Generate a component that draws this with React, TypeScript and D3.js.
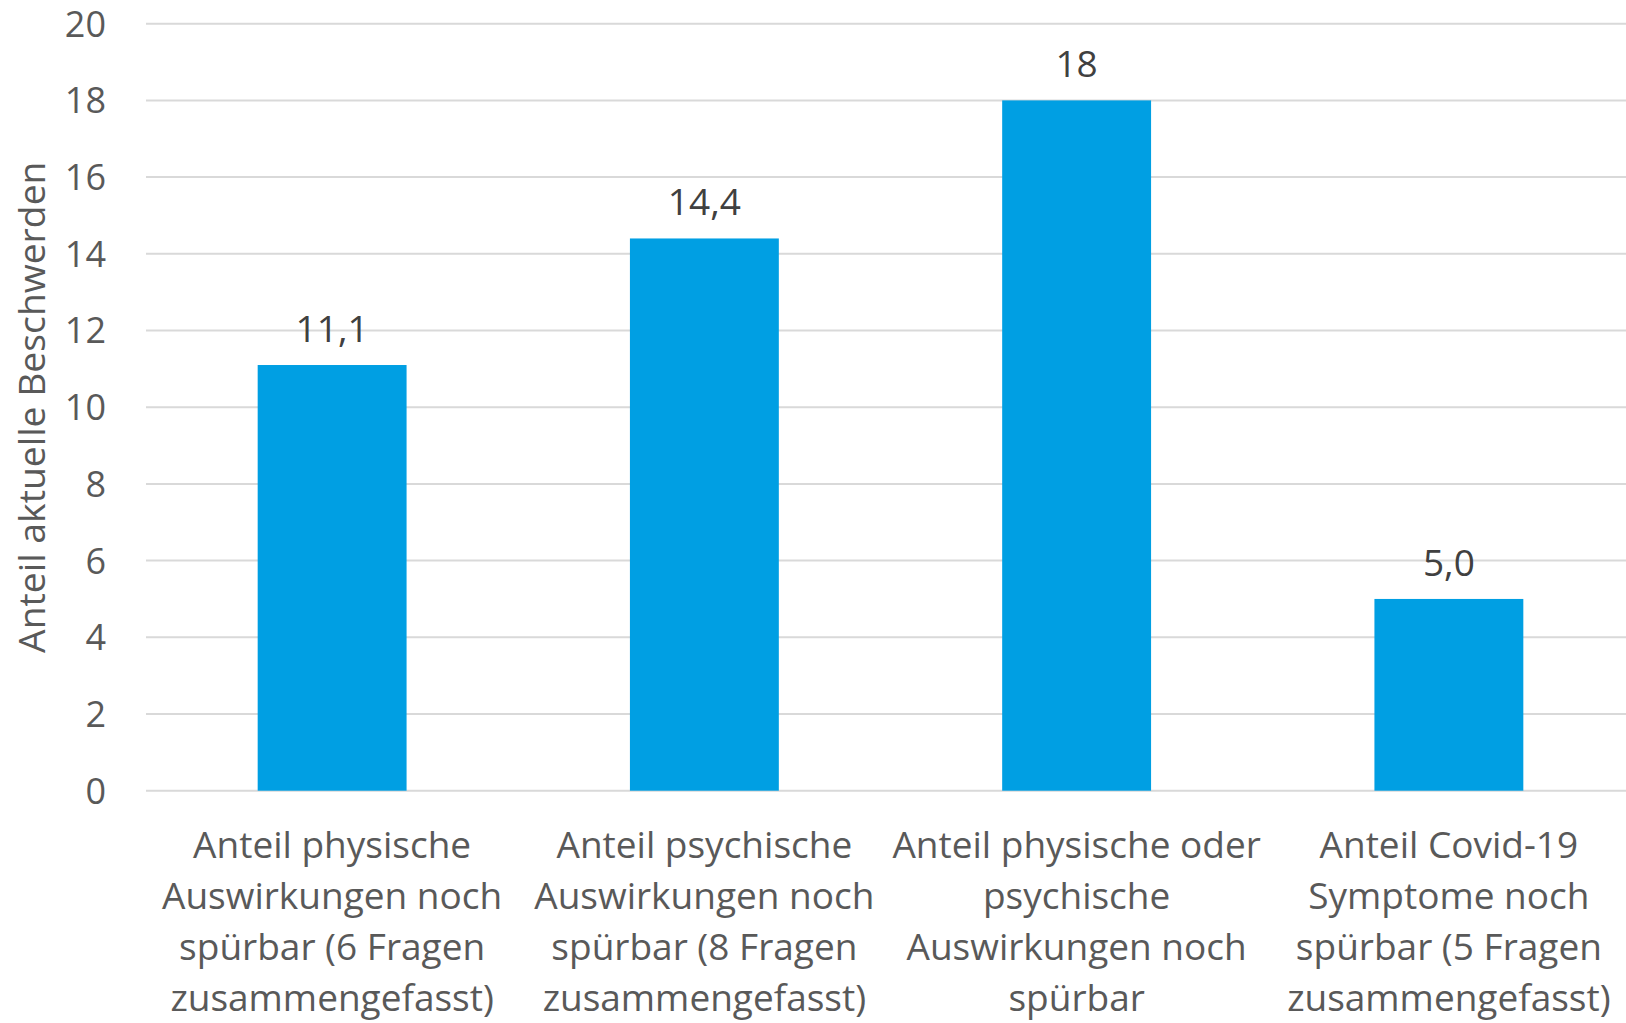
import React from "react";
import * as d3 from "d3";

const categories: string[][] = [
  ["Anteil physische", "Auswirkungen noch", "spürbar (6 Fragen", "zusammengefasst)"],
  ["Anteil psychische", "Auswirkungen noch", "spürbar (8 Fragen", "zusammengefasst)"],
  ["Anteil physische oder", "psychische", "Auswirkungen noch", "spürbar"],
  ["Anteil Covid-19", "Symptome noch", "spürbar (5 Fragen", "zusammengefasst)"],
];
const values: number[] = [11.1, 14.4, 18, 5.0];
const valueLabels: string[] = ["11,1", "14,4", "18", "5,0"];
const yTicks: number[] = [0, 2, 4, 6, 8, 10, 12, 14, 16, 18, 20];
const yTitle = "Anteil aktuelle Beschwerden";

const W = 1626;
const H = 1023;
const FONT = "'Open Sans', sans-serif";

export default function App() {
  const x = d3
    .scaleBand<number>()
    .domain(d3.range(values.length))
    .range([146, 1635])
    .paddingInner(0.6)
    .paddingOuter(0.3);
  const y = d3.scaleLinear().domain([0, 20]).range([790.7, 23.7]);

  return (
    <svg
      width={W}
      height={H}
      style={{ position: "absolute", left: 0, top: 0, background: "#fff" }}
    >
      {yTicks.map((t) => (
        <g key={t}>
          <line x1={146} x2={W} y1={y(t)} y2={y(t)} stroke="#D9D9D9" strokeWidth={2} />
          <text
            x={106}
            y={y(t)}
            dy="0.36em"
            textAnchor="end"
            fontFamily={FONT}
            fontSize={36}
            fill="#595959"
          >
            {t}
          </text>
        </g>
      ))}
      {values.map((v, i) => (
        <g key={i}>
          <rect
            x={x(i)}
            y={y(v)}
            width={x.bandwidth()}
            height={y(0) - y(v)}
            fill="#009FE3"
          />
          <text
            x={(x(i) as number) + x.bandwidth() / 2}
            y={y(v) - 23}
            textAnchor="middle"
            fontFamily={FONT}
            fontSize={37}
            fill="#404040"
          >
            {valueLabels[i]}
          </text>
          {categories[i].map((line, j) => (
            <text
              key={j}
              x={(x(i) as number) + x.bandwidth() / 2}
              y={857.8 + j * 51.1}
              textAnchor="middle"
              fontFamily={FONT}
              fontSize={37}
              fill="#595959"
            >
              {line}
            </text>
          ))}
        </g>
      ))}
      <text
        transform={`translate(45, ${(y(0) + y(20)) / 2}) rotate(-90)`}
        textAnchor="middle"
        fontFamily={FONT}
        fontSize={37.3}
        fill="#595959"
      >
        {yTitle}
      </text>
    </svg>
  );
}
